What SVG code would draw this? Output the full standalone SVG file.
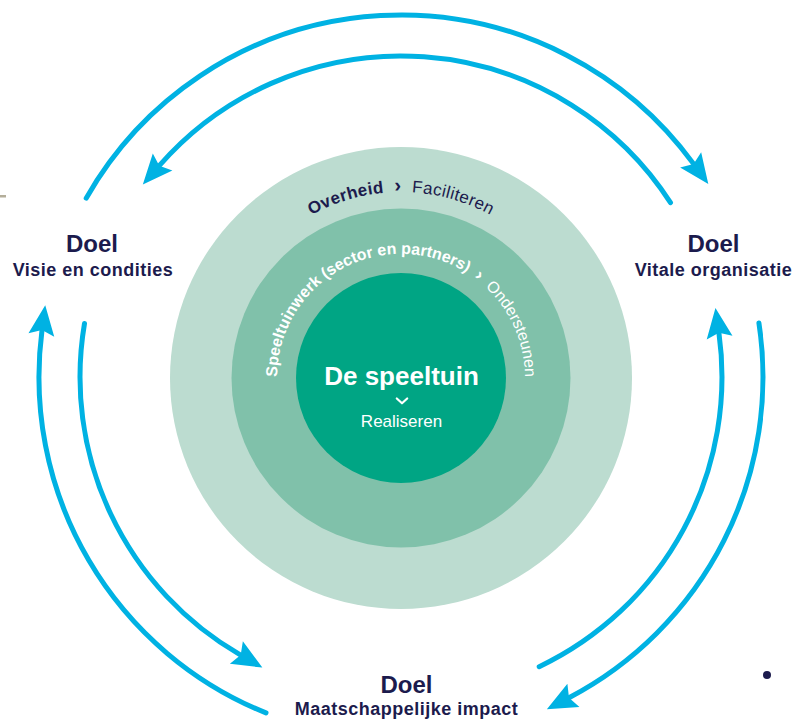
<svg xmlns="http://www.w3.org/2000/svg" width="797" height="720" viewBox="0 0 797 720">
  <style>
    .arc { fill: none; stroke: #00b2e3; stroke-width: 5; stroke-linecap: round; marker-end: url(#head); }
    .navy { fill: #1c1b4d; font-family: "Liberation Sans", Arial, sans-serif; }
    .doel { font-size: 24px; font-weight: bold; text-anchor: middle; }
    .sub { font-size: 18px; font-weight: bold; text-anchor: middle; letter-spacing: 0.5px; }
    .white { fill: #ffffff; font-family: "Liberation Sans", Arial, sans-serif; }
    .ring2 { font-size: 16px; }
  </style>
  <defs>
    <marker id="head" markerUnits="userSpaceOnUse" viewBox="-6 -15 34 30" refX="0" refY="0" markerWidth="34" markerHeight="30" orient="auto">
      <path d="M-5,-13 L25,0 L-5,13 L0,0 Z" fill="#00b2e3"/>
    </marker>
    <path id="p-outer" d="M215,378 A186,186 0 0 1 587,378"/>
    <path id="p-mid" d="M278.9,399.5 A124,124 0 1 1 523.1,399.5"/>
  </defs>
  <rect width="797" height="720" fill="#ffffff"/>
  <rect x="0" y="195" width="6" height="2.5" fill="#b4ae9a"/>

  <g id="rings">
    <circle cx="401" cy="378" r="231" fill="#bcdcd0"/>
    <circle cx="401" cy="378" r="169.5" fill="#80c1aa"/>
    <circle cx="401" cy="378" r="105" fill="#00a584"/>
  </g>

  <g id="ring-overheid">
    <text class="navy" font-size="17" letter-spacing="0.4" text-anchor="middle">
      <textPath href="#p-outer" startOffset="50%"><tspan font-weight="bold">Overheid&#160;&#160;<tspan font-size="20">›</tspan>&#160;&#160;</tspan><tspan>Faciliteren</tspan></textPath>
    </text>
  </g>

  <g id="ring-speeltuinwerk">
    <text class="white ring2" font-weight="bold"><textPath href="#p-mid" startOffset="22.6">Speeltuinwerk</textPath></text>
    <text class="white ring2" font-weight="bold"><textPath href="#p-mid" startOffset="135.5">(sector en partners)</textPath></text>
    <text class="white" font-size="18" font-weight="bold"><textPath href="#p-mid" startOffset="294.2">›</textPath></text>
    <text class="white ring2"><textPath href="#p-mid" startOffset="308.9">Ondersteunen</textPath></text>
  </g>

  <g id="center">
    <text class="white" x="401.5" y="385" font-size="26" font-weight="bold" text-anchor="middle">De speeltuin</text>
    <polyline points="396.8,398.5 402,403.3 407.2,398.5" fill="none" stroke="#ffffff" stroke-width="2.2" stroke-linecap="round" stroke-linejoin="round"/>
    <text class="white" x="401.5" y="427" font-size="17" text-anchor="middle">Realiseren</text>
  </g>

  <g id="doel-visie">
    <text class="navy doel" x="92" y="252">Doel</text>
    <text class="navy sub" x="93" y="276">Visie en condities</text>
  </g>

  <g id="doel-vitale">
    <text class="navy doel" x="713.5" y="252">Doel</text>
    <text class="navy sub" x="713.5" y="276">Vitale organisatie</text>
  </g>

  <g id="doel-maatschappelijk">
    <text class="navy doel" x="406.5" y="693">Doel</text>
    <text class="navy sub" x="406.5" y="715">Maatschappelijke impact</text>
  </g>

  <g id="connectors">
    <path class="arc" d="M86.2,198.2 A362,362 0 0 1 693.6,163.9"/>
    <path class="arc" d="M670.5,202.6 A321,321 0 0 0 159.3,165.7"/>
    <path class="arc" d="M266.0,712.9 A362,362 0 0 1 42.0,330.1"/>
    <path class="arc" d="M84.5,323.5 A321,321 0 0 0 240.7,655.1"/>
    <path class="arc" d="M539.2,666.7 A321,321 0 0 0 718.9,332.7"/>
    <path class="arc" d="M758.9,322.9 A362,362 0 0 1 569.0,697.7"/>
  </g>

  <circle id="dot" cx="767" cy="675" r="4" fill="#1c1b4d"/>
</svg>
